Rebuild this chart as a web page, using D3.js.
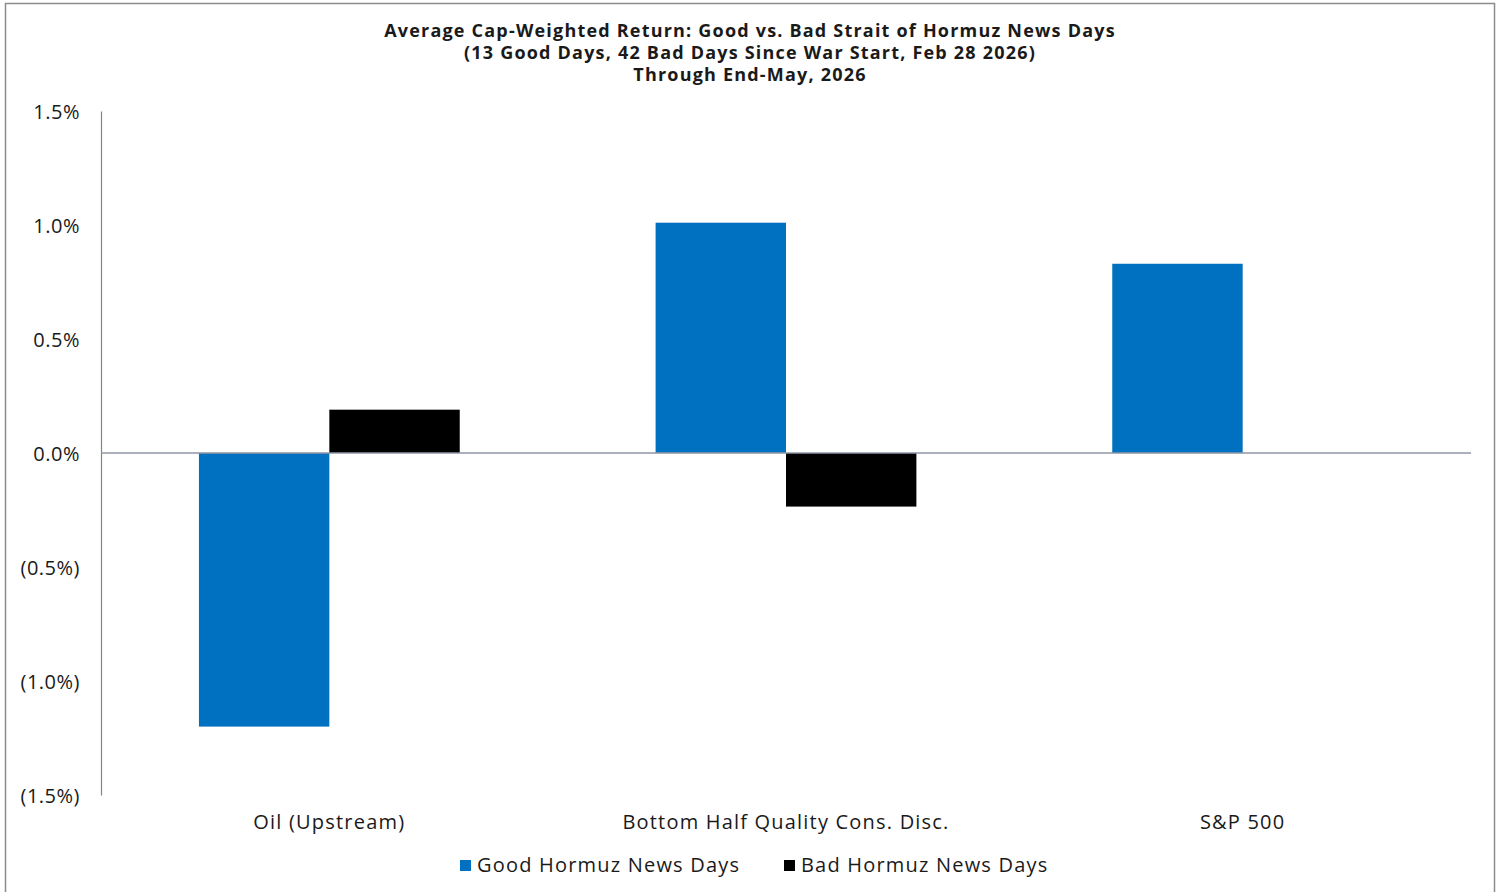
<!DOCTYPE html>
<html>
<head>
<meta charset="utf-8">
<script src="https://cdn.jsdelivr.net/npm/d3@7"></script>
<style>
  body { margin: 0; background: #fff; }
  svg text { font-family: "Open Sans", "Noto Sans", sans-serif; fill: #1a1a1a; }
  .title { font-weight: 700; font-size: 18px; letter-spacing: 1.2px; }
  .y-tick text { font-size: 20px; letter-spacing: 0.5px; }
  .x-label { font-size: 20px; letter-spacing: 1.2px; }
  .legend text { font-size: 20px; letter-spacing: 1.2px; }
</style>
</head>
<body>
<div id="chart"></div>
<script>
const categories = ["Oil (Upstream)", "Bottom Half Quality Cons. Disc.", "S&P 500"];
const seriesNames = ["Good Hormuz News Days", "Bad Hormuz News Days"];
const goodDays = [-1.20, 1.01, 0.83];
const badDays = [0.19, -0.235, null];
const yTicks = [1.5, 1.0, 0.5, 0.0, -0.5, -1.0, -1.5];
const titleLines = [
  "Average Cap-Weighted Return: Good vs. Bad Strait of Hormuz News Days",
  "(13 Good Days, 42 Bad Days Since War Start, Feb 28 2026)",
  "Through End-May, 2026"
];
const colors = ["#0070C0", "#000000"];

const width = 1501, height = 892;

const svg = d3.select("#chart").append("svg")
  .attr("width", width)
  .attr("height", height);

// outer frame
svg.append("rect")
  .attr("x", 5.5).attr("y", 3.5)
  .attr("width", 1489).attr("height", 900)
  .attr("fill", "none")
  .attr("stroke", "#8c8c8c")
  .attr("stroke-width", 1.5);

// title
svg.append("g").selectAll("text")
  .data(titleLines)
  .join("text")
  .attr("class", "title")
  .attr("x", 750)
  .attr("y", (d, i) => 37 + i * 22)
  .attr("text-anchor", "middle")
  .text(d => d);

const y = d3.scaleLinear().domain([-1.5, 1.5]).range([795, 111]);
const x0 = d3.scaleBand().domain(categories).range([101, 1471]).padding(0);
const x1 = d3.scaleBand().domain(seriesNames).range([0, x0.bandwidth()])
  .paddingInner(0).paddingOuter(0.751);

const fmt = v => {
  const s = Math.abs(v).toFixed(1) + "%";
  return v < 0 ? "(" + s + ")" : s;
};

// y axis labels
const yAxis = svg.append("g")
  .attr("class", "y-tick")
  .attr("transform", "translate(101,0)")
  .call(d3.axisLeft(y).tickValues(yTicks).tickFormat(fmt).tickSize(0).tickPadding(21));
yAxis.select(".domain").attr("stroke", "#7f8591").attr("stroke-width", 1.2);
yAxis.selectAll("text").attr("dy", "0.35em");

const rows = categories.map((c, i) => ({ cat: c, values: [goodDays[i], badDays[i]] }));

const groups = svg.append("g").selectAll("g")
  .data(rows)
  .join("g")
  .attr("transform", d => `translate(${x0(d.cat)},0)`);

groups.selectAll("rect")
  .data(d => d.values.map((v, j) => ({ s: seriesNames[j], v, j })).filter(d => d.v !== null))
  .join("rect")
  .attr("x", d => x1(d.s))
  .attr("width", x1.bandwidth())
  .attr("y", d => y(Math.max(0, d.v)))
  .attr("height", d => Math.abs(y(d.v) - y(0)))
  .attr("fill", d => colors[d.j]);

// zero line
svg.append("line")
  .attr("x1", 101).attr("x2", 1471)
  .attr("y1", y(0)).attr("y2", y(0))
  .attr("stroke", "#8f96a3")
  .attr("stroke-width", 1.5);

// category labels
svg.append("g").selectAll("text")
  .data(categories)
  .join("text")
  .attr("class", "x-label")
  .attr("x", d => x0(d) + x0.bandwidth() / 2)
  .attr("y", 829)
  .attr("text-anchor", "middle")
  .text(d => d);

// legend
const legendX = [460, 784];
const legend = svg.append("g").attr("class", "legend");
const items = legend.selectAll("g")
  .data(seriesNames)
  .join("g")
  .attr("transform", (d, i) => `translate(${legendX[i]},860)`);
items.append("rect")
  .attr("width", 11).attr("height", 11)
  .attr("fill", (d, i) => colors[i]);
items.append("text")
  .attr("x", 17)
  .attr("y", 12)
  .text(d => d);
</script>
</body>
</html>
